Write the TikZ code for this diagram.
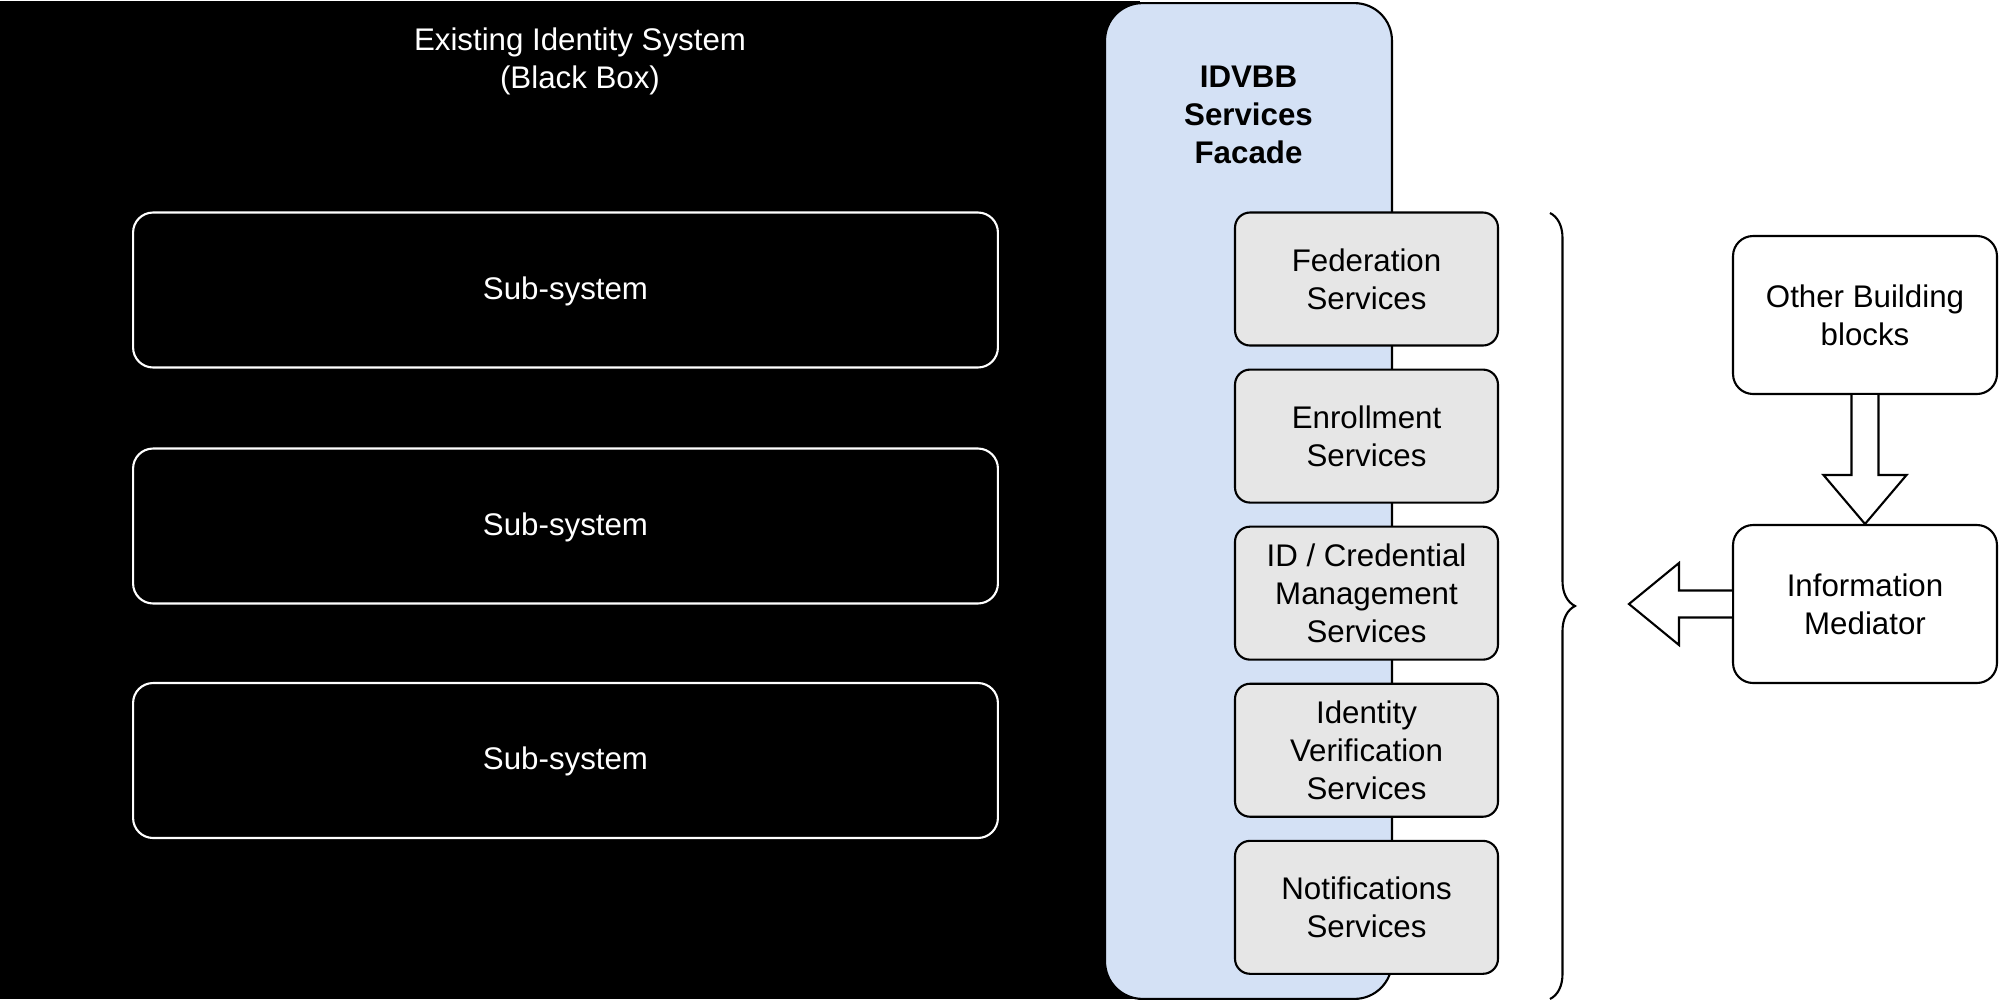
\documentclass[tikz,border=0pt]{standalone}
\usepackage{fontspec}
\setmainfont{Liberation Sans}
\usetikzlibrary{calc,positioning,decorations.pathreplacing}
\definecolor{facadeblue}{RGB}{212,225,245}
\definecolor{servicegrey}{RGB}{230,230,230}
\newcommand{\sysfont}{\fontsize{17.8}{21.6}\selectfont}
\tikzset{
	legacy/.style={fill=black, minimum width=22.8cm, minimum height=19.98cm, inner sep=0pt},
	subsystem/.style={draw=white, line width=1.2pt, rounded corners=0.4cm, minimum width=17.3cm, minimum height=3.1cm, text=white, font=\sysfont},
	facade/.style={draw=black, fill=facadeblue, line width=1.2pt, rounded corners=0.75cm, minimum width=5.74cm, minimum height=19.92cm},
	service/.style={draw=black, fill=servicegrey, line width=1.2pt, rounded corners=0.3cm, minimum width=5.26cm, minimum height=2.66cm, align=center, font=\sysfont},
	block/.style={draw=black, fill=white, line width=1.2pt, rounded corners=0.4cm, minimum width=5.28cm, minimum height=3.16cm, align=center, font=\sysfont},
	blockarrow/.style={draw=black, fill=white, line width=1.2pt, line join=miter},
}

\begin{document}
\begin{tikzpicture}[x=0.02cm, y=-0.02cm]
			%%%%% START %%%%%
			\useasboundingbox (0, 0) rectangle (1999, 1002);
			
			% existing system
			\node[legacy] (legacy) at (570, 500) {};
			\node[text=white, align=center, font=\sysfont] (legacytitle) at (580, 61) {Existing Identity System\\(Black Box)};
			
			\node[subsystem] (sub1) at (565.5, 290) {\raisebox{-0.3em}[0pt][0pt]{Sub-system}};
			\node[subsystem] (sub2) at (565.5, 526) {\raisebox{-0.3em}[0pt][0pt]{Sub-system}};
			\node[subsystem] (sub3) at (565.5, 760.5) {\raisebox{-0.3em}[0pt][0pt]{Sub-system}};
			
			% facade
			\node[facade] (facade) at (1248.5, 501) {};
			\node[align=center, font=\sysfont\bfseries] (facadetitle) at ($(facade.north)+(0, 113)$) {IDVBB\\Services\\Facade};
			
			\node[service] (fed) at (1366.5, 279) {Federation\\Services};
			\node[service, below=0.44cm of fed] (enrol) {Enrollment\\Services};
			\node[service, below=0.44cm of enrol] (cred) {ID / Credential\\Management\\Services};
			\node[service, below=0.44cm of cred] (verif) {Identity\\Verification\\Services};
			\node[service, below=0.44cm of verif] (notif) {Notifications\\Services};
			
			% brace
			\coordinate (bracetop) at (1550, 213);
			\coordinate (bracebot) at (1550, 999);
			\draw[decorate, decoration={brace, amplitude=0.5cm}, line width=1.2pt] (bracetop) -- (bracebot);
			
			% other building blocks
			\node[block] (other) at (1865, 315) {Other Building\\blocks};
			\node[block] (mediator) at (1865, 604) {Information\\Mediator};
			
			\draw[blockarrow] ($(other.south)+(-13.5, 0)$) -- ($(other.south)+(-13.5, 80)$) -- ($(other.south)+(-41.5, 80)$)
				-- (mediator.north) -- ($(other.south)+(41.5, 80)$) -- ($(other.south)+(13.5, 80)$) -- ($(other.south)+(13.5, 0)$);
			
			\coordinate (imtip) at ($(mediator.west)+(-103, 0)$);
			\draw[blockarrow] ($(mediator.west)+(0, -13.5)$) -- ($(mediator.west)+(-53, -13.5)$) -- ($(mediator.west)+(-53, -41)$)
				-- (imtip) -- ($(mediator.west)+(-53, 41)$) -- ($(mediator.west)+(-53, 13.5)$) -- ($(mediator.west)+(0, 13.5)$);
			
			%%%%% END %%%%%
\end{tikzpicture}
\end{document}
